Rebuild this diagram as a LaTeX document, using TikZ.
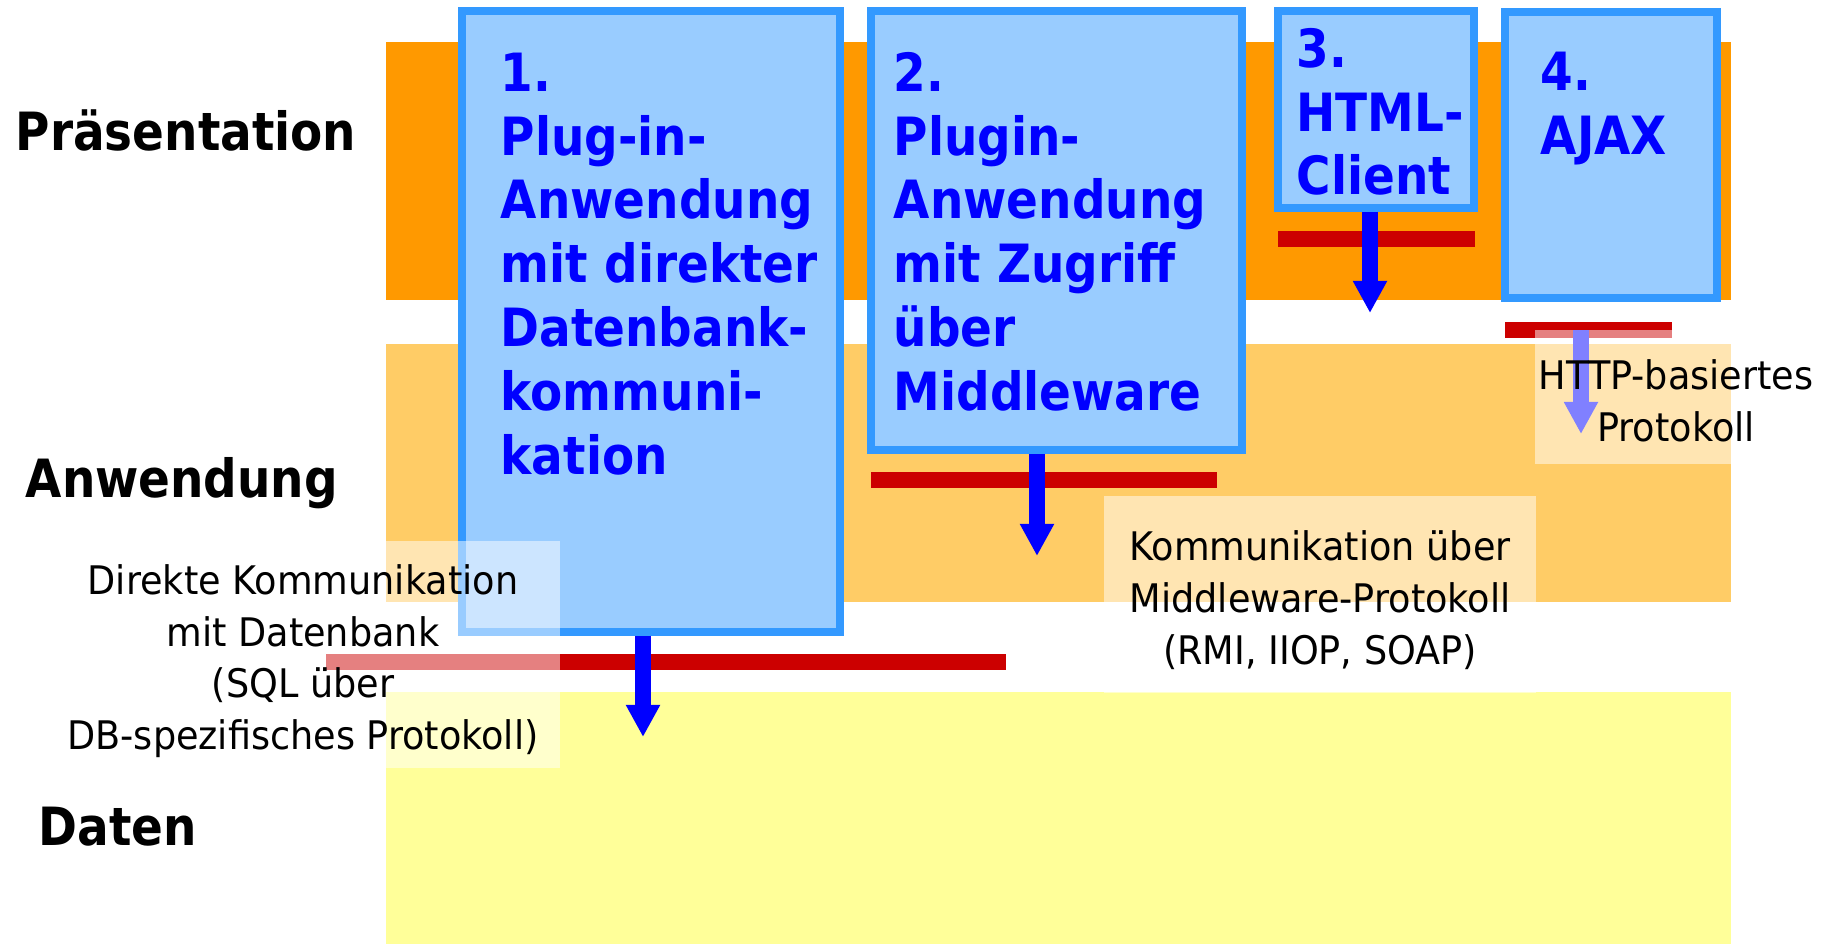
\documentclass[tikz,border=0pt]{standalone}
\usepackage{fontspec}
\usepackage{tikz}
\usetikzlibrary{arrows.meta}
\newfontfamily\headfont[FakeStretch=0.89]{DejaVu Sans}
\newfontfamily\notefont[FakeStretch=0.93]{DejaVu Sans}
\definecolor{praesorange}{HTML}{FF9900}
\definecolor{anwgold}{HTML}{FFCC66}
\definecolor{datenyellow}{HTML}{FFFF99}
\definecolor{boxfill}{HTML}{99CCFF}
\definecolor{boxline}{HTML}{3399FF}
\definecolor{barred}{HTML}{CC0000}
\definecolor{flowblue}{HTML}{0000FF}

\tikzset{
  tierlabel/.style={font=\headfont\bfseries\fontsize{15}{18.15}\selectfont, inner sep=0pt, anchor=base west},
  clientbox/.style={draw=boxline, fill=boxfill, line width=0.8mm, inner sep=0pt},
  boxtext/.style={font=\headfont\bfseries\fontsize{15}{18.15}\selectfont, text=flowblue, align=left, inner sep=0pt, anchor=north west},
  protobar/.style={draw=barred, line width=1.6mm},
  flow/.style={draw=flowblue, line width=1.6mm, -{Triangle[length=3.2mm, width=3.2mm]}},
  notebox/.style={fill=white, fill opacity=0.5, inner sep=0pt},
  notetext/.style={align=center, inner sep=0pt, font=\notefont\fontsize{11.2}{14.7}\selectfont}
}

\begin{document}
\begin{tikzpicture}[x=0.1mm, y=-0.1mm]
    \useasboundingbox (0,0) rectangle (1825,944);

    % the three tiers
    \fill [praesorange] (386,42) rectangle (1731,300);
    \fill [anwgold] (386,344) rectangle (1731,602);
    \fill [datenyellow] (386,692) rectangle (1731,944);

    % tier names
    \node [tierlabel] (praes) at (15,151) {Präsentation};
    \node [tierlabel] (anw) at (25,498) {Anwendung};
    \node [tierlabel] (daten) at (38,846) {Daten};

    % the four kinds of client
    \node [clientbox, minimum width=37.8mm, minimum height=62.1mm] (box1) at (651,321.5) {};
    \node [clientbox, minimum width=37.1mm, minimum height=43.9mm] (box2) at (1056.5,230.5) {};
    \node [clientbox, minimum width=19.6mm, minimum height=19.7mm] (box3) at (1376,109.5) {};
    \node [clientbox, minimum width=21.2mm, minimum height=28.6mm] (box4) at (1611,155) {};

    \node [boxtext] (text1) at (500,46) {\strut 1.\\Plug-in-\\Anwendung\\mit direkter\\Datenbank-\\kommuni-\\kation};
    \node [boxtext] (text2) at (893,46) {\strut 2.\\Plugin-\\Anwendung\\mit Zugriff\\über\\Middleware};
    \node [boxtext] (text3) at (1296,22) {\strut 3.\\HTML-\\Client};
    \node [boxtext] (text4) at (1540,45) {\strut 4.\\AJAX};

    % protocol bars
    \draw [protobar] (326,662) -- (1006,662);
    \draw [protobar] (871,480) -- (1217,480);
    \draw [protobar] (1278,239) -- (1475,239);
    \draw [protobar] (1505,330) -- (1672,330);

    % arrows down to the next tier
    \coordinate (tip1) at (643,737);
    \coordinate (tip2) at (1037,556);
    \coordinate (tip3) at (1370,313);
    \coordinate (start4) at (1581,330);
    \coordinate (tip4) at (1581,434);
    \draw [flow] (tip1 |- box1.south) -- (tip1);
    \draw [flow] (tip2 |- box2.south) -- (tip2);
    \draw [flow] (tip3 |- box3.south) -- (tip3);
    \draw [flow] (start4) -- (tip4);

    % notes on the protocols
    \node [notebox, minimum width=51.4mm, minimum height=22.7mm] (direkt) at (303,654.5) {};
    \node [notebox, minimum width=43.2mm, minimum height=19.7mm] (mwnote) at (1320,594.5) {};
    \node [notebox, minimum width=28.2mm, minimum height=13.4mm] (httpnote) at (1676,397) {};
    \node [notetext] (direkttext) at (303,661)
      {Direkte Kommunikation\\mit Datenbank\\(SQL über\\DB-spezifisches Protokoll)};
    \node [notetext] (mwtext) at (1320,600)
      {Kommunikation über\\Middleware-Protokoll\\(RMI, IIOP, SOAP)};
    \node [notetext] (httptext) at (1676,401)
      {HTTP-basiertes\\Protokoll};

\end{tikzpicture}
\end{document}
